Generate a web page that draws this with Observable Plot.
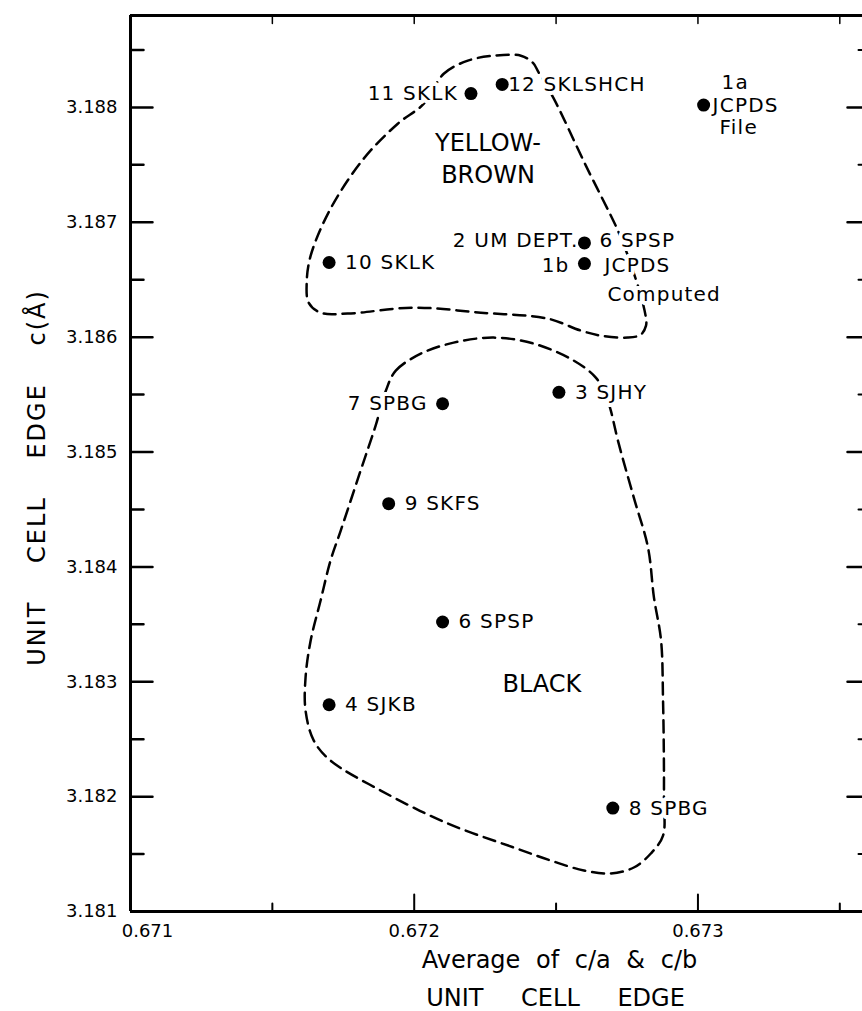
<!DOCTYPE html>
<html><head><meta charset="utf-8">
<script src="https://cdn.jsdelivr.net/npm/d3@7"></script>
<script src="https://cdn.jsdelivr.net/npm/@observablehq/plot@0.6"></script>
<style>html,body{margin:0;padding:0;background:#fff}#chart svg{display:block}</style>
</head><body><div id="chart"></div>
<script>
// ---- axes ----
const xDomain = [0.671, 0.67358];
const yDomain = [3.181, 3.1888];
const xTicksMajor = [0.671, 0.672, 0.673];
const xTicksMinor = [0.6715, 0.6725, 0.6735];
const yTicksMajor = [3.181, 3.182, 3.183, 3.184, 3.185, 3.186, 3.187, 3.188];
const yTicksMinor = [3.1815, 3.1825, 3.1835, 3.1845, 3.1855, 3.1865, 3.1875, 3.1885];
const xTitle = "Average of c/a & c/b";
const xTitle2 = "UNIT CELL EDGE";
const yTitle = "UNIT CELL EDGE c(Å)";

// ---- samples ----
const sampleX = [0.67220, 0.67231, 0.67302, 0.67260, 0.67260, 0.67170, 0.67210, 0.67251, 0.67191, 0.67210, 0.67170, 0.67270];
const sampleY = [3.18812, 3.18820, 3.18802, 3.18682, 3.18664, 3.18665, 3.18542, 3.18552, 3.18455, 3.18352, 3.18280, 3.18190];
const labelLeft  = ["11 SKLK", "", "", "2 UM DEPT.", "1b", "", "7 SPBG", "", "", "", "", ""];
const labelRight = ["", "12 SKLSHCH", "JCPDS", "6 SPSP", "JCPDS", "10 SKLK", "", "3 SJHY", "9 SKFS", "6 SPSP", "4 SJKB", "8 SPBG"];
const labelAbove = ["", "", "1a", "", "", "", "", "", "", "", "", ""];
const labelBelow = ["", "", "File", "", "Computed", "", "", "", "", "", "", ""];

// ---- group outlines (dashed) ----
const yellowX = [0.672034, 0.672104, 0.672189, 0.672280, 0.672376, 0.672418, 0.672439, 0.672492, 0.672605, 0.672718, 0.672753, 0.672771, 0.672799, 0.672817, 0.672817, 0.672799, 0.672753, 0.672658, 0.672587, 0.672471, 0.672235, 0.671998, 0.671765, 0.671670, 0.671628, 0.671621, 0.671635, 0.671705, 0.671822, 0.671942];
const yellowY = [3.188032, 3.188293, 3.188407, 3.188450, 3.188450, 3.188389, 3.188302, 3.188076, 3.187493, 3.186927, 3.186709, 3.186579, 3.186361, 3.186161, 3.186100, 3.186022, 3.185996, 3.186013, 3.186057, 3.186161, 3.186213, 3.186257, 3.186205, 3.186213, 3.186300, 3.186474, 3.186709, 3.187118, 3.187554, 3.187858];
const blackX = [0.671900, 0.671935, 0.672023, 0.672139, 0.672280, 0.672422, 0.672563, 0.672640, 0.672676, 0.672693, 0.672718, 0.672774, 0.672824, 0.672845, 0.672870, 0.672877, 0.672880, 0.672880, 0.672877, 0.672834, 0.672774, 0.672693, 0.672598, 0.672481, 0.672351, 0.672118, 0.671882, 0.671705, 0.671646, 0.671617, 0.671617, 0.671635, 0.671670, 0.671705, 0.671741, 0.671811, 0.671864];
const blackY = [3.185534, 3.185708, 3.185856, 3.185952, 3.185996, 3.185943, 3.185795, 3.185648, 3.185491, 3.185360, 3.185099, 3.184603, 3.184168, 3.183733, 3.183359, 3.182836, 3.182314, 3.181966, 3.181661, 3.181505, 3.181383, 3.181331, 3.181357, 3.181444, 3.181557, 3.181766, 3.182053, 3.182314, 3.182488, 3.182749, 3.183037, 3.183359, 3.183707, 3.184055, 3.184316, 3.184838, 3.185230];

// ---- group names ----
const regionName = ["YELLOW-", "BROWN", "BLACK"];
const regionX = [0.67226, 0.67226, 0.67245];
const regionY = [3.18769, 3.18741, 3.18298];

// ---- build tables ----
const samples = sampleX.map((x, i) => ({x, y: sampleY[i], left: labelLeft[i], right: labelRight[i], above: labelAbove[i], below: labelBelow[i], i}));
const yellow = yellowX.map((x, i) => ({x, y: yellowY[i]}));
const black = blackX.map((x, i) => ({x, y: blackY[i]}));
const regions = regionName.map((t, i) => ({t, x: regionX[i], y: regionY[i]}));

const FONT = "DejaVu Sans";
const LS = 20;
const halo = {stroke: "white", strokeWidth: 8, strokeLinejoin: "round", paintOrder: "stroke", fill: "black"};
const rightDx = {1: 6, 2: 9, 3: 15, 4: 20};
const leftDx = {0: -13, 3: -6, 4: -15, 6: -15};
const rowDy = {3: -2, 4: 2};
const fmt = d3.format(".3f");

const labelMarks = [];
samples.forEach(s => {
  const dy0 = rowDy[s.i] ?? 0;
  if (s.right) labelMarks.push(Plot.text([s], {x: "x", y: "y", text: "right", textAnchor: "start", dx: rightDx[s.i] ?? 16, dy: dy0, fontSize: LS, ...halo}));
  if (s.left) labelMarks.push(Plot.text([s], {x: "x", y: "y", text: "left", textAnchor: "end", dx: leftDx[s.i] ?? -14, dy: dy0, fontSize: LS, ...halo}));
  if (s.above) labelMarks.push(Plot.text([s], {x: "x", y: "y", text: "above", textAnchor: "start", dx: 18, dy: -23, fontSize: LS, ...halo}));
  if (s.below) labelMarks.push(Plot.text([s], {x: "x", y: "y", text: "below", textAnchor: "start", dx: s.i === 4 ? 23 : 16, dy: s.i === 4 ? 31 : 22, fontSize: LS, ...halo}));
});

const tick = (data, k, anchor, rotate, length, sw) => Plot.vector(data, {[k]: d => d, frameAnchor: anchor, rotate, length, shape: "spike", r: 0, anchor: "start", stroke: "black", strokeWidth: sw, strokeLinecap: "butt"});

const chart = Plot.plot({
  width: 862, height: 1011,
  marginLeft: 130, marginRight: 0, marginTop: 15, marginBottom: 100,
  x: {domain: xDomain, axis: null},
  y: {domain: yDomain, axis: null},
  style: {fontFamily: FONT, color: "black", background: "white", overflow: "visible"},
  marks: [
    // dashed outlines
    Plot.line(yellow, {x: "x", y: "y", curve: "catmull-rom-closed", stroke: "black", strokeWidth: 2.5, strokeDasharray: "12,7"}),
    Plot.line(black, {x: "x", y: "y", curve: "catmull-rom-closed", stroke: "black", strokeWidth: 2.5, strokeDasharray: "12,7"}),
    // region names
    Plot.text(regions, {x: "x", y: "y", text: "t", fontSize: 24, ...halo}),
    ...labelMarks,
    Plot.dot(samples, {x: "x", y: "y", r: 6.5, fill: "black", stroke: "none"}),
    // frame
    Plot.ruleX([xDomain[0]], {stroke: "black", strokeWidth: 3}),
    Plot.ruleY([yDomain[0]], {stroke: "black", strokeWidth: 3}),
    Plot.ruleY([yDomain[1]], {stroke: "black", strokeWidth: 3}),
    // ticks
    tick(yTicksMajor, "y", "left", 90, 22, 2.5),
    tick(yTicksMinor, "y", "left", 90, 13, 2.5),
    tick(yTicksMajor, "y", "right", -90, 15, 2.5),
    tick(yTicksMinor, "y", "right", -90, 4, 2),
    tick(xTicksMajor.slice(1), "x", "bottom", 0, 17, 2),
    tick(xTicksMinor, "x", "bottom", 0, 8, 2),
    tick(xTicksMajor.slice(1).concat(xTicksMinor), "x", "top", 180, 8, 1.5),
    // tick labels
    Plot.text(yTicksMajor, {y: d => d, text: d => fmt(d), frameAnchor: "left", textAnchor: "end", lineAnchor: "middle", dx: -13, fontSize: 18}),
    Plot.text(xTicksMajor.slice(1), {x: d => d, text: d => fmt(d), frameAnchor: "bottom", textAnchor: "middle", lineAnchor: "bottom", dy: 25, fontSize: 18}),
    Plot.text(xTicksMajor.slice(0, 1), {x: d => d, text: d => fmt(d), frameAnchor: "bottom", textAnchor: "middle", lineAnchor: "bottom", dx: 17, dy: 25, fontSize: 18}),
    // titles
    Plot.text([xTitle], {text: d => d, frameAnchor: "bottom", textAnchor: "middle", lineAnchor: "bottom", dx: 63, dy: 56, fontSize: 24}),
    Plot.text([xTitle2], {text: d => d, frameAnchor: "bottom", textAnchor: "middle", lineAnchor: "bottom", dx: 59, dy: 94, fontSize: 24}),
    Plot.text([yTitle], {text: d => d, frameAnchor: "left", textAnchor: "middle", lineAnchor: "middle", rotate: -90, dx: -93, dy: 14, fontSize: 24})
  ]
});

const labelSet = new Set([...labelLeft, ...labelRight, ...labelAbove, ...labelBelow].filter(Boolean));
d3.select(chart).selectAll("text").each(function () {
  const t = this.textContent;
  if (t === xTitle) this.style.wordSpacing = "8px";
  if (t === xTitle2) this.style.wordSpacing = "30px";
  if (t === yTitle) { this.style.wordSpacing = "28px"; this.style.letterSpacing = "2px"; }
  if (labelSet.has(t)) this.style.letterSpacing = "1.2px";
});
document.getElementById("chart").appendChild(chart);
</script>
</body></html>
